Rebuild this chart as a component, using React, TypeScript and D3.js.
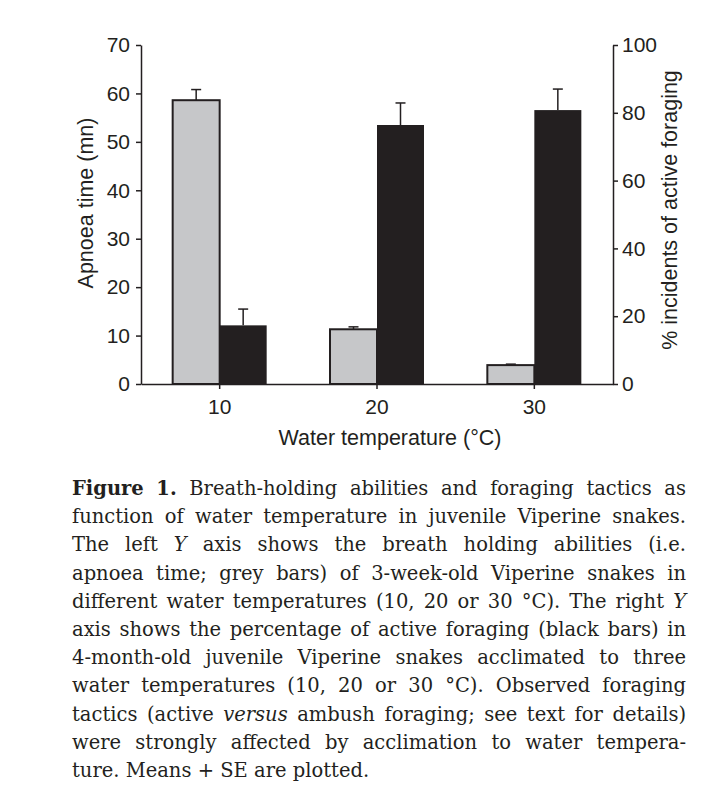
import * as d3 from 'd3';
import React, { useEffect, useRef } from 'react';

// water temperature categories (°C)
const temps = ['10', '20', '30'];
// apnoea time (mn), grey bars, left axis
const apnoea = [58.6, 11.3, 3.9];
const apnoeaSE = [2.2, 0.5, 0.2];
// % incidents of active foraging, black bars, right axis
const foraging = [17.3, 76.4, 80.8];
const foragingSE = [4.8, 6.5, 6.2];

const leftTicks = [0, 10, 20, 30, 40, 50, 60, 70];
const rightTicks = [0, 20, 40, 60, 80, 100];

// caption lines (** bold, * italic toggles)
const captionLines = [
  '**Figure 1.** Breath-holding abilities and foraging tactics as',
  'function of water temperature in juvenile Viperine snakes.',
  'The left *Y* axis shows the breath holding abilities (i.e.',
  'apnoea time; grey bars) of 3-week-old Viperine snakes in',
  'different water temperatures (10, 20 or 30 °C). The right *Y*',
  'axis shows the percentage of active foraging (black bars) in',
  '4-month-old juvenile Viperine snakes acclimated to three',
  'water temperatures (10, 20 or 30 °C). Observed foraging',
  'tactics (active *versus* ambush foraging; see text for details)',
  'were strongly affected by acclimation to water tempera-',
  'ture. Means + SE are plotted.',
];

const W = 703;
const H = 809;
const ink = '#231f20';
const grey = '#c6c7c9';
const sans = '"Liberation Sans", Arial, sans-serif';
const serif = '"DejaVu Serif", serif';

export default function App() {
  const svgRef = useRef<SVGSVGElement>(null);

  const x = d3.scaleBand().domain(temps).range([141, 613]).padding(0);
  const yL = d3.scaleLinear().domain([0, 70]).range([384, 45]);
  const yR = d3.scaleLinear().domain([0, 100]).range([384, 45]);
  const barW = 47;

  useEffect(() => {
    const svg = d3.select(svgRef.current);
    svg.selectAll('.axis, .caption').remove();

    const styleAxis = (g: any) => {
      g.attr('font-family', sans).attr('font-size', 21);
      g.selectAll('path, line').attr('stroke', ink).attr('stroke-width', 1.5);
      g.selectAll('text').attr('fill', ink);
    };

    svg.append('g').attr('class', 'axis')
      .attr('transform', 'translate(141,0)')
      .call(d3.axisLeft(yL).tickValues(leftTicks).tickSize(5).tickSizeOuter(0).tickPadding(6) as any)
      .call(styleAxis);

    svg.append('g').attr('class', 'axis')
      .attr('transform', 'translate(613,0)')
      .call(d3.axisRight(yR).tickValues(rightTicks).tickSize(5).tickSizeOuter(0).tickPadding(4) as any)
      .call(styleAxis);

    svg.append('g').attr('class', 'axis')
      .attr('transform', 'translate(0,384)')
      .call(d3.axisBottom(x).tickSize(5).tickSizeOuter(0).tickPadding(10) as any)
      .call(styleAxis);

    // justified caption
    const fs = 19.5;
    const left = 72;
    const right = 686;
    const cap = svg.append('g').attr('class', 'caption')
      .attr('transform', `translate(${left},0)`)
      .attr('font-family', serif).attr('font-size', fs).attr('fill', ink);
    const avail = right - left;
    let bold = false;
    let italic = false;
    captionLines.forEach((line, li) => {
      const yb = 495 + li * 28.2;
      const words = line.split(' ');
      const nodes: any[] = [];
      words.forEach((w) => {
        let txt = w;
        let b = bold;
        let it = italic;
        if (txt.startsWith('**')) { bold = true; b = true; txt = txt.slice(2); }
        else if (txt.startsWith('*')) { italic = true; it = true; txt = txt.slice(1); }
        if (txt.endsWith('**')) { txt = txt.slice(0, -2); bold = false; }
        else if (txt.endsWith('*')) { txt = txt.slice(0, -1); italic = false; }
        const t = cap.append('text')
          .attr('y', yb)
          .attr('font-weight', b ? 'bold' : 'normal')
          .attr('font-style', it ? 'italic' : 'normal')
          .text(txt);
        nodes.push(t);
      });
      const widths = nodes.map((n) => (n.node() as SVGTextElement).getComputedTextLength());
      const total = d3.sum(widths);
      const last = li === captionLines.length - 1;
      const space = fs * 0.32;
      const gap = last || nodes.length < 2 ? space : (avail - total) / (nodes.length - 1);
      let cx = 0;
      nodes.forEach((n, i) => {
        n.attr('x', cx);
        cx += widths[i] + gap;
      });
    });
  }, []);

  const cats = temps.map((t, i) => ({
    t,
    c: (x(t) as number) + x.bandwidth() / 2,
    a: apnoea[i],
    aSE: apnoeaSE[i],
    f: foraging[i],
    fSE: foragingSE[i],
  }));

  return (
    <svg ref={svgRef} width={W} height={H} style={{ display: 'block', position: 'absolute', left: 0, top: 0, background: '#fff' }}>
      <rect width={W} height={H} fill="#fff" />
      {cats.map((d) => (
        <g key={d.t}>
          {/* grey error bar */}
          <line x1={d.c - barW / 2} x2={d.c - barW / 2} y1={yL(d.a)} y2={yL(d.a + d.aSE)} stroke={ink} strokeWidth={1.5} />
          <line x1={d.c - barW / 2 - 5} x2={d.c - barW / 2 + 5} y1={yL(d.a + d.aSE)} y2={yL(d.a + d.aSE)} stroke={ink} strokeWidth={1.5} />
          <rect x={d.c - barW} y={yL(d.a)} width={barW} height={yL(0) - yL(d.a)} fill={grey} stroke={ink} strokeWidth={2} />
          {/* black error bar */}
          <line x1={d.c + barW / 2} x2={d.c + barW / 2} y1={yR(d.f)} y2={yR(d.f + d.fSE)} stroke={ink} strokeWidth={1.5} />
          <line x1={d.c + barW / 2 - 5} x2={d.c + barW / 2 + 5} y1={yR(d.f + d.fSE)} y2={yR(d.f + d.fSE)} stroke={ink} strokeWidth={1.5} />
          <rect x={d.c} y={yR(d.f)} width={barW} height={yR(0) - yR(d.f)} fill={ink} />
        </g>
      ))}
      <text transform="translate(93,203) rotate(-90)" textAnchor="middle" fontFamily={sans} fontSize={21.5} fill={ink}>
        Apnoea time (mn)
      </text>
      <text transform="translate(677,210) rotate(-90)" textAnchor="middle" fontFamily={sans} fontSize={21.5} fill={ink}>
        % incidents of active foraging
      </text>
      <text x={390} y={445} textAnchor="middle" fontFamily={sans} fontSize={21.5} fill={ink}>
        Water temperature (°C)
      </text>
    </svg>
  );
}
